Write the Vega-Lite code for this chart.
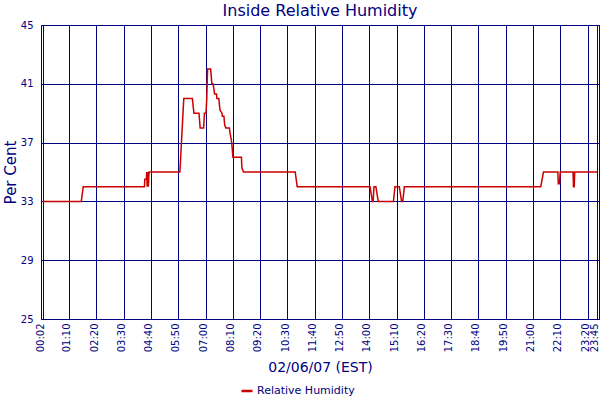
{
  "$schema": "https://vega.github.io/schema/vega-lite/v6.json",
  "autosize": {"type": "none"},
  "width": 558,
  "height": 294,
  "padding": {"left": 41, "top": 25, "right": 1, "bottom": 81},
  "background": "white",
  "title": {
    "text": "Inside Relative Humidity",
    "anchor": "middle",
    "font": "DejaVu Sans",
    "fontSize": 16,
    "fontWeight": "normal",
    "color": "#000080",
    "offset": 1
  },
  "config": {
    "font": "DejaVu Sans",
    "view": {"stroke": "#000080", "strokeWidth": 1},
    "axis": {
      "domainColor": "#000080",
      "gridColor": "#000080",
      "gridOpacity": 1,
      "gridWidth": 1,
      "ticks": false,
      "tickSize": 0,
      "labelColor": "#000080",
      "labelFont": "DejaVu Sans",
      "titleColor": "#000080",
      "titleFont": "DejaVu Sans",
      "titleFontWeight": "normal"
    }
  },
  "data": {
    "values": [
      {"t": "2007-02-06T00:02:00", "rh": 33, "series": "Relative Humidity"},
      {"t": "2007-02-06T01:41:00", "rh": 33, "series": "Relative Humidity"},
      {"t": "2007-02-06T01:46:00", "rh": 34, "series": "Relative Humidity"},
      {"t": "2007-02-06T04:23:00", "rh": 34, "series": "Relative Humidity"},
      {"t": "2007-02-06T04:24:00", "rh": 34.5, "series": "Relative Humidity"},
      {"t": "2007-02-06T04:28:00", "rh": 34.5, "series": "Relative Humidity"},
      {"t": "2007-02-06T04:29:00", "rh": 35, "series": "Relative Humidity"},
      {"t": "2007-02-06T04:30:00", "rh": 34, "series": "Relative Humidity"},
      {"t": "2007-02-06T04:32:00", "rh": 35, "series": "Relative Humidity"},
      {"t": "2007-02-06T04:33:00", "rh": 34, "series": "Relative Humidity"},
      {"t": "2007-02-06T04:35:00", "rh": 35, "series": "Relative Humidity"},
      {"t": "2007-02-06T05:54:00", "rh": 35, "series": "Relative Humidity"},
      {"t": "2007-02-06T05:56:00", "rh": 36, "series": "Relative Humidity"},
      {"t": "2007-02-06T05:58:00", "rh": 37, "series": "Relative Humidity"},
      {"t": "2007-02-06T06:00:00", "rh": 38, "series": "Relative Humidity"},
      {"t": "2007-02-06T06:02:00", "rh": 39, "series": "Relative Humidity"},
      {"t": "2007-02-06T06:04:00", "rh": 40, "series": "Relative Humidity"},
      {"t": "2007-02-06T06:26:00", "rh": 40, "series": "Relative Humidity"},
      {"t": "2007-02-06T06:30:00", "rh": 39, "series": "Relative Humidity"},
      {"t": "2007-02-06T06:43:00", "rh": 39, "series": "Relative Humidity"},
      {"t": "2007-02-06T06:46:00", "rh": 38, "series": "Relative Humidity"},
      {"t": "2007-02-06T06:55:00", "rh": 38, "series": "Relative Humidity"},
      {"t": "2007-02-06T06:57:00", "rh": 39, "series": "Relative Humidity"},
      {"t": "2007-02-06T07:01:00", "rh": 39, "series": "Relative Humidity"},
      {"t": "2007-02-06T07:03:00", "rh": 40, "series": "Relative Humidity"},
      {"t": "2007-02-06T07:05:00", "rh": 42, "series": "Relative Humidity"},
      {"t": "2007-02-06T07:13:00", "rh": 42, "series": "Relative Humidity"},
      {"t": "2007-02-06T07:16:00", "rh": 41, "series": "Relative Humidity"},
      {"t": "2007-02-06T07:19:00", "rh": 41, "series": "Relative Humidity"},
      {"t": "2007-02-06T07:21:00", "rh": 40.7, "series": "Relative Humidity"},
      {"t": "2007-02-06T07:23:00", "rh": 40.3, "series": "Relative Humidity"},
      {"t": "2007-02-06T07:28:00", "rh": 40.3, "series": "Relative Humidity"},
      {"t": "2007-02-06T07:29:00", "rh": 40, "series": "Relative Humidity"},
      {"t": "2007-02-06T07:34:00", "rh": 40, "series": "Relative Humidity"},
      {"t": "2007-02-06T07:35:00", "rh": 39.7, "series": "Relative Humidity"},
      {"t": "2007-02-06T07:37:00", "rh": 39.2, "series": "Relative Humidity"},
      {"t": "2007-02-06T07:42:00", "rh": 39, "series": "Relative Humidity"},
      {"t": "2007-02-06T07:43:00", "rh": 38.8, "series": "Relative Humidity"},
      {"t": "2007-02-06T07:47:00", "rh": 38.8, "series": "Relative Humidity"},
      {"t": "2007-02-06T07:49:00", "rh": 38.2, "series": "Relative Humidity"},
      {"t": "2007-02-06T07:52:00", "rh": 38, "series": "Relative Humidity"},
      {"t": "2007-02-06T08:01:00", "rh": 38, "series": "Relative Humidity"},
      {"t": "2007-02-06T08:03:00", "rh": 37.6, "series": "Relative Humidity"},
      {"t": "2007-02-06T08:06:00", "rh": 37.2, "series": "Relative Humidity"},
      {"t": "2007-02-06T08:08:00", "rh": 36.7, "series": "Relative Humidity"},
      {"t": "2007-02-06T08:10:00", "rh": 36, "series": "Relative Humidity"},
      {"t": "2007-02-06T08:32:00", "rh": 36, "series": "Relative Humidity"},
      {"t": "2007-02-06T08:33:00", "rh": 35.3, "series": "Relative Humidity"},
      {"t": "2007-02-06T08:37:00", "rh": 35, "series": "Relative Humidity"},
      {"t": "2007-02-06T10:50:00", "rh": 35, "series": "Relative Humidity"},
      {"t": "2007-02-06T10:55:00", "rh": 34, "series": "Relative Humidity"},
      {"t": "2007-02-06T14:02:00", "rh": 34, "series": "Relative Humidity"},
      {"t": "2007-02-06T14:08:00", "rh": 33, "series": "Relative Humidity"},
      {"t": "2007-02-06T14:10:00", "rh": 33, "series": "Relative Humidity"},
      {"t": "2007-02-06T14:12:00", "rh": 34, "series": "Relative Humidity"},
      {"t": "2007-02-06T14:17:00", "rh": 34, "series": "Relative Humidity"},
      {"t": "2007-02-06T14:23:00", "rh": 33, "series": "Relative Humidity"},
      {"t": "2007-02-06T15:02:00", "rh": 33, "series": "Relative Humidity"},
      {"t": "2007-02-06T15:06:00", "rh": 34, "series": "Relative Humidity"},
      {"t": "2007-02-06T15:17:00", "rh": 34, "series": "Relative Humidity"},
      {"t": "2007-02-06T15:23:00", "rh": 33, "series": "Relative Humidity"},
      {"t": "2007-02-06T15:26:00", "rh": 33, "series": "Relative Humidity"},
      {"t": "2007-02-06T15:30:00", "rh": 34, "series": "Relative Humidity"},
      {"t": "2007-02-06T21:20:00", "rh": 34, "series": "Relative Humidity"},
      {"t": "2007-02-06T21:27:00", "rh": 35, "series": "Relative Humidity"},
      {"t": "2007-02-06T22:04:00", "rh": 35, "series": "Relative Humidity"},
      {"t": "2007-02-06T22:05:00", "rh": 34.2, "series": "Relative Humidity"},
      {"t": "2007-02-06T22:08:00", "rh": 34.2, "series": "Relative Humidity"},
      {"t": "2007-02-06T22:10:00", "rh": 35, "series": "Relative Humidity"},
      {"t": "2007-02-06T22:43:00", "rh": 35, "series": "Relative Humidity"},
      {"t": "2007-02-06T22:44:00", "rh": 34, "series": "Relative Humidity"},
      {"t": "2007-02-06T22:46:00", "rh": 34, "series": "Relative Humidity"},
      {"t": "2007-02-06T22:47:00", "rh": 35, "series": "Relative Humidity"},
      {"t": "2007-02-06T23:45:00", "rh": 35, "series": "Relative Humidity"}
    ]
  },
  "mark": {"type": "line", "strokeWidth": 1.5, "interpolate": "linear"},
  "encoding": {
    "x": {
      "field": "t",
      "type": "temporal",
      "title": "02/06/07 (EST)",
      "scale": {
        "domain": [
          {"year": 2007, "month": 2, "date": 5, "hours": 23, "minutes": 57, "seconds": 36},
          {"year": 2007, "month": 2, "date": 6, "hours": 23, "minutes": 49, "seconds": 30}
        ]
      },
      "axis": {
        "values": [
          {"year": 2007, "month": 2, "date": 6, "hours": 0, "minutes": 2},
          {"year": 2007, "month": 2, "date": 6, "hours": 1, "minutes": 10},
          {"year": 2007, "month": 2, "date": 6, "hours": 2, "minutes": 20},
          {"year": 2007, "month": 2, "date": 6, "hours": 3, "minutes": 30},
          {"year": 2007, "month": 2, "date": 6, "hours": 4, "minutes": 40},
          {"year": 2007, "month": 2, "date": 6, "hours": 5, "minutes": 50},
          {"year": 2007, "month": 2, "date": 6, "hours": 7, "minutes": 0},
          {"year": 2007, "month": 2, "date": 6, "hours": 8, "minutes": 10},
          {"year": 2007, "month": 2, "date": 6, "hours": 9, "minutes": 20},
          {"year": 2007, "month": 2, "date": 6, "hours": 10, "minutes": 30},
          {"year": 2007, "month": 2, "date": 6, "hours": 11, "minutes": 40},
          {"year": 2007, "month": 2, "date": 6, "hours": 12, "minutes": 50},
          {"year": 2007, "month": 2, "date": 6, "hours": 14, "minutes": 0},
          {"year": 2007, "month": 2, "date": 6, "hours": 15, "minutes": 10},
          {"year": 2007, "month": 2, "date": 6, "hours": 16, "minutes": 20},
          {"year": 2007, "month": 2, "date": 6, "hours": 17, "minutes": 30},
          {"year": 2007, "month": 2, "date": 6, "hours": 18, "minutes": 40},
          {"year": 2007, "month": 2, "date": 6, "hours": 19, "minutes": 50},
          {"year": 2007, "month": 2, "date": 6, "hours": 21, "minutes": 0},
          {"year": 2007, "month": 2, "date": 6, "hours": 22, "minutes": 10},
          {"year": 2007, "month": 2, "date": 6, "hours": 23, "minutes": 20},
          {"year": 2007, "month": 2, "date": 6, "hours": 23, "minutes": 45}
        ],
        "format": "%H:%M",
        "labelAngle": 270,
        "labelFontSize": 10,
        "labelPadding": 4,
        "labelOffset": -2.4,
        "labelOverlap": false,
        "labelFlush": false,
        "titleFontSize": 14,
        "titlePadding": 9
      }
    },
    "y": {
      "field": "rh",
      "type": "quantitative",
      "title": "Per Cent",
      "scale": {"domain": [25, 45], "nice": false, "zero": false},
      "axis": {
        "values": [25, 29, 33, 37, 41, 45],
        "labelFontSize": 10,
        "labelPadding": 8,
        "labelFlush": false,
        "titleFontSize": 15,
        "titlePadding": 2
      }
    },
    "color": {
      "field": "series",
      "type": "nominal",
      "scale": {"range": ["#cc0000"]},
      "legend": {
        "title": null,
        "orient": "none",
        "legendX": 199,
        "legendY": 359,
        "symbolType": "stroke",
        "symbolSize": 121,
        "symbolStrokeWidth": 2.5,
        "labelFontSize": 11,
        "labelColor": "#000080",
        "labelFont": "DejaVu Sans",
        "labelOffset": 3
      }
    }
  }
}
